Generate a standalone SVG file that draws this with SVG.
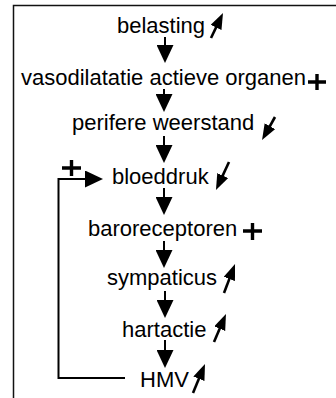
<svg xmlns="http://www.w3.org/2000/svg" width="336" height="398" viewBox="0 0 336 398">
<style>
text{font-family:"Liberation Sans",Arial,sans-serif;font-size:22px;fill:#000}
.ln{stroke:#000;stroke-width:2;fill:none}
.sm{stroke:#000;stroke-width:2.6;fill:none}
.pl{stroke:#000;stroke-width:3.4;fill:none}
.fr{stroke:#111;stroke-width:1.5;fill:none}
</style>
<defs>
<marker id="big" markerUnits="userSpaceOnUse" markerWidth="19" markerHeight="17" refX="12" refY="8.5" orient="auto">
<path d="M0,0 L18,8.5 L0,17 Z" fill="#000"/>
</marker>
<marker id="small" markerUnits="userSpaceOnUse" markerWidth="17" markerHeight="13" refX="10" refY="6" orient="auto">
<path d="M0,0 L16,6 L0,12 Z" fill="#000"/>
</marker>
</defs>
<g id="frame">
<path class="fr" d="M13.5,398 V5.5 H336"/>
</g>
<g id="belasting"><text x="117" y="33">belasting</text><line class="sm" x1="211" y1="38" x2="220.4" y2="18.4" marker-end="url(#small)"/></g>
<g id="vasodilatatie"><text x="21" y="85">vasodilatatie actieve organen</text><path class="pl" d="M308,82 H326 M317,74 V90"/></g>
<g id="perifere"><text x="72" y="130">perifere weerstand</text><line class="sm" x1="275" y1="117" x2="265" y2="134.8" marker-end="url(#small)"/></g>
<g id="bloeddruk"><text x="112" y="184">bloeddruk</text><line class="sm" x1="229" y1="162" x2="218.5" y2="184.6" marker-end="url(#small)"/></g>
<g id="baroreceptoren"><text x="88" y="236">baroreceptoren</text><path class="pl" d="M243,231 H262 M252.5,223 V240"/></g>
<g id="sympaticus"><text x="107" y="285">sympaticus</text><line class="sm" x1="224" y1="293" x2="232.9" y2="269.6" marker-end="url(#small)"/></g>
<g id="hartactie"><text x="122" y="337">hartactie</text><line class="sm" x1="214" y1="342" x2="223.6" y2="319.5" marker-end="url(#small)"/></g>
<g id="HMV"><text x="140" y="387">HMV</text><line class="sm" x1="193" y1="393" x2="202.7" y2="369.5" marker-end="url(#small)"/></g>
<g id="connectors">
<line class="ln" x1="165" y1="37" x2="165" y2="57" marker-end="url(#big)"/>
<line class="ln" x1="164" y1="89" x2="164" y2="106" marker-end="url(#big)"/>
<line class="ln" x1="164" y1="136" x2="164" y2="157" marker-end="url(#big)"/>
<line class="ln" x1="164" y1="188" x2="164" y2="209" marker-end="url(#big)"/>
<line class="ln" x1="164" y1="241" x2="164" y2="262" marker-end="url(#big)"/>
<line class="ln" x1="165" y1="291" x2="165" y2="312" marker-end="url(#big)"/>
<line class="ln" x1="165" y1="340" x2="165" y2="362" marker-end="url(#big)"/>
<path class="ln" d="M125,378 H58.5 V179 H97" marker-end="url(#big)"/>
<path class="pl" d="M62,168 H81 M71.5,160 V176"/>
</g>
</svg>
